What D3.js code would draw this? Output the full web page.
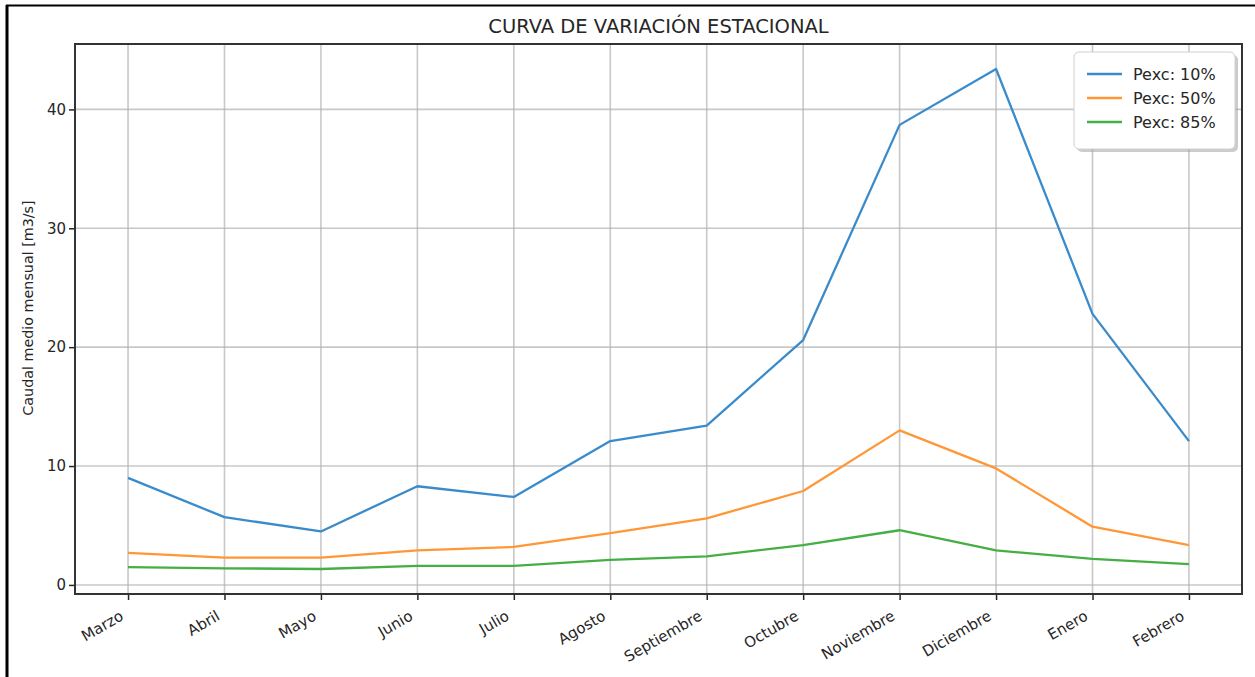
<!DOCTYPE html>
<html>
<head>
<meta charset="utf-8">
<script src="https://cdn.jsdelivr.net/npm/d3@7"></script>
<style>
  body { margin: 0; background: #fff; }
  text { font-family: "DejaVu Sans", sans-serif; fill: #262626; }
  .grid line { stroke: #b0b0b0; stroke-opacity: 0.7; stroke-width: 1.6; }
</style>
</head>
<body>
<div id="chart"></div>
<script>
// months on the x axis
var months = ["Marzo","Abril","Mayo","Junio","Julio","Agosto","Septiembre",
              "Octubre","Noviembre","Diciembre","Enero","Febrero"];

// caudal medio mensual [m3/s] by exceedance probability
var pexc10 = [9.0, 5.7, 4.5, 8.3, 7.4, 12.1, 13.4, 20.6, 38.7, 43.4, 22.8, 12.1];
var pexc50 = [2.7, 2.3, 2.3, 2.9, 3.2, 4.35, 5.6, 7.9, 13.0, 9.8, 4.9, 3.35];
var pexc85 = [1.5, 1.4, 1.34, 1.6, 1.6, 2.1, 2.4, 3.35, 4.6, 2.9, 2.2, 1.75];

var seriesNames = ["Pexc: 10%", "Pexc: 50%", "Pexc: 85%"];
var yTicks = [0, 10, 20, 30, 40];

var colors = ["#3a8bcb", "#ff9737", "#45ae45"];
var series = [pexc10, pexc50, pexc85];

var width = 1255, height = 677;
var m = {l: 75, r: 13, t: 44, b: 83};

var svg = d3.select("#chart").append("svg")
  .attr("width", width)
  .attr("height", height);

svg.append("rect").attr("width", width).attr("height", height).attr("fill", "#fff");

// outer frame of the screenshot
svg.append("line").attr("x1", 7).attr("x2", 7).attr("y1", 5).attr("y2", height)
  .attr("stroke", "#000").attr("stroke-width", 3);
svg.append("line").attr("x1", 6).attr("x2", width).attr("y1", 5.5).attr("y2", 5.5)
  .attr("stroke", "#000").attr("stroke-width", 2);

var pw = width - m.l - m.r, ph = height - m.t - m.b;

// matplotlib-like 5% margins
var n = months.length;
var x = d3.scaleLinear()
  .domain([-0.55, n - 1 + 0.55])
  .range([m.l, m.l + pw]);

var all = d3.merge(series);
var lo = d3.min(all), hi = d3.max(all), pad = (hi - lo) * 0.05;
var y = d3.scaleLinear()
  .domain([lo - pad, hi + pad])
  .range([m.t + ph, m.t]);

// grid
var grid = svg.append("g").attr("class", "grid");
grid.selectAll(".gx").data(months).enter().append("line")
  .attr("x1", (d, i) => x(i)).attr("x2", (d, i) => x(i))
  .attr("y1", m.t).attr("y2", m.t + ph);
grid.selectAll(".gy").data(yTicks).enter().append("line")
  .attr("x1", m.l).attr("x2", m.l + pw)
  .attr("y1", d => y(d)).attr("y2", d => y(d));

// lines
var line = d3.line().x((d, i) => x(i)).y(d => y(d));
svg.append("g").selectAll("path").data(series).enter().append("path")
  .attr("d", line)
  .attr("fill", "none")
  .attr("stroke", (d, i) => colors[i])
  .attr("stroke-width", 2.3)
  .attr("stroke-linejoin", "round");

// axes
var xAxis = d3.axisBottom(x)
  .tickValues(d3.range(n))
  .tickFormat(i => months[i])
  .tickSize(6).tickSizeOuter(0);
var gx = svg.append("g")
  .attr("transform", "translate(0," + (m.t + ph) + ")")
  .call(xAxis);
gx.select(".domain").remove();
gx.selectAll(".tick line").attr("stroke", "#262626").attr("stroke-width", 1.5);
gx.selectAll(".tick text")
  .attr("font-size", 15)
  .attr("text-anchor", "end")
  .attr("dy", null).attr("y", 0)
  .attr("transform", "translate(-4,25) rotate(-30)");

var yAxis = d3.axisLeft(y).tickValues(yTicks).tickSize(6).tickSizeOuter(0);
var gy = svg.append("g")
  .attr("transform", "translate(" + m.l + ",0)")
  .call(yAxis);
gy.select(".domain").remove();
gy.selectAll(".tick line").attr("stroke", "#262626").attr("stroke-width", 1.5);
gy.selectAll(".tick text").attr("font-size", 15).attr("x", -9);

// spines
svg.append("rect")
  .attr("x", m.l).attr("y", m.t).attr("width", pw).attr("height", ph)
  .attr("fill", "none").attr("stroke", "#333").attr("stroke-width", 2);

// title + y label
svg.append("text")
  .attr("x", m.l + pw / 2).attr("y", 33)
  .attr("text-anchor", "middle").attr("font-size", 19.5)
  .text("CURVA DE VARIACIÓN ESTACIONAL");

svg.append("text")
  .attr("transform", "translate(33,308) rotate(-90)")
  .attr("text-anchor", "middle").attr("font-size", 14.3)
  .text("Caudal medio mensual [m3/s]");

// legend
var lg = svg.append("g").attr("transform", "translate(1074,52)");
lg.append("rect").attr("x", 3).attr("y", 3).attr("width", 161).attr("height", 97)
  .attr("rx", 5).attr("fill", "#999").attr("opacity", 0.5);
lg.append("rect").attr("width", 161).attr("height", 97).attr("rx", 5)
  .attr("fill", "#fff").attr("stroke", "#d0d0d0").attr("stroke-width", 1);
var items = lg.selectAll(".item").data(seriesNames).enter().append("g")
  .attr("transform", (d, i) => "translate(0," + (22 + i * 24) + ")");
items.append("line").attr("x1", 13).attr("x2", 48)
  .attr("stroke", (d, i) => colors[i]).attr("stroke-width", 2.3);
items.append("text").attr("x", 59).attr("dy", "0.35em")
  .attr("font-size", 16).text(d => d);
</script>
</body>
</html>
